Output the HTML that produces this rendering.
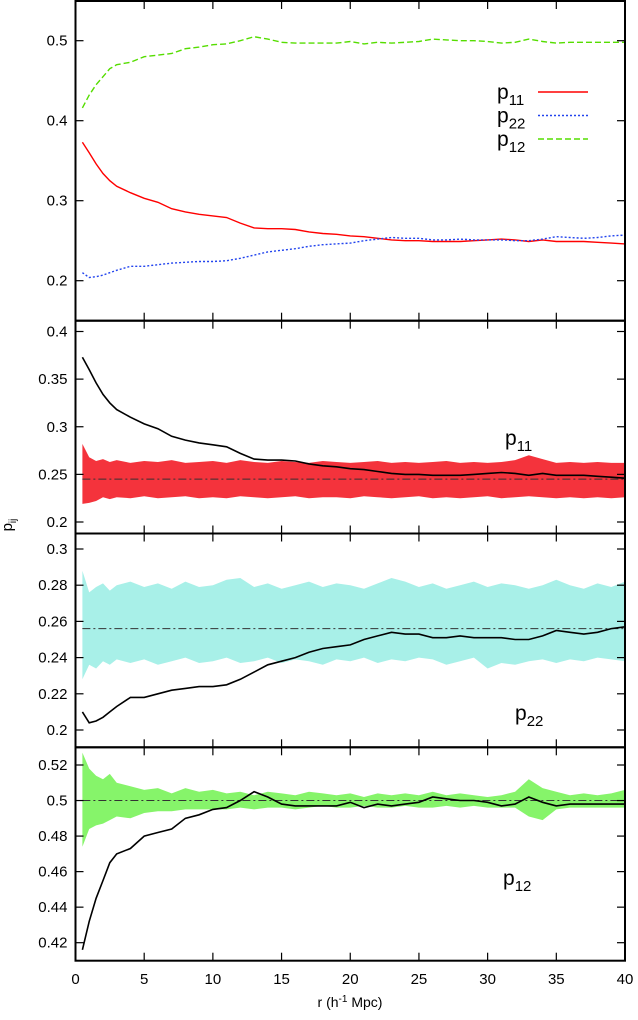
<!DOCTYPE html>
<html><head><meta charset="utf-8"><style>
body{margin:0;background:#fff;}
svg text{font-family:"Liberation Sans",sans-serif;fill:#000;}
</style></head><body>
<svg id="chart" width="638" height="1015" xmlns="http://www.w3.org/2000/svg"></svg>
<script>
const rX=[0.5,1,1.5,2,2.5,3,4,5,6,7,8,9,10,11,12,13,14,15,16,17,18,19,20,21,22,23,24,25,26,27,28,29,30,31,32,33,34,35,36,37,38,39,40];
const p11=[0.373,0.36,0.346,0.334,0.325,0.318,0.31,0.303,0.298,0.29,0.286,0.283,0.281,0.279,0.272,0.266,0.265,0.265,0.264,0.261,0.259,0.258,0.256,0.255,0.253,0.251,0.25,0.25,0.249,0.249,0.249,0.25,0.251,0.252,0.251,0.249,0.251,0.249,0.249,0.249,0.248,0.247,0.246];
const p22=[0.21,0.204,0.205,0.207,0.21,0.213,0.218,0.218,0.22,0.222,0.223,0.224,0.224,0.225,0.228,0.232,0.236,0.238,0.24,0.243,0.245,0.246,0.247,0.25,0.252,0.254,0.253,0.253,0.251,0.251,0.252,0.251,0.251,0.251,0.25,0.25,0.252,0.255,0.254,0.253,0.254,0.256,0.257];
const p12=[0.416,0.432,0.445,0.455,0.465,0.47,0.473,0.48,0.482,0.484,0.49,0.492,0.495,0.496,0.5,0.505,0.502,0.498,0.497,0.497,0.497,0.497,0.499,0.496,0.498,0.497,0.498,0.499,0.502,0.501,0.5,0.5,0.499,0.497,0.498,0.502,0.499,0.497,0.498,0.498,0.498,0.498,0.498];
const b11Hi=[0.282,0.268,0.264,0.266,0.263,0.265,0.262,0.264,0.263,0.265,0.262,0.263,0.264,0.262,0.265,0.263,0.262,0.264,0.263,0.262,0.264,0.263,0.262,0.263,0.264,0.262,0.263,0.262,0.263,0.264,0.262,0.263,0.262,0.263,0.265,0.27,0.266,0.262,0.263,0.262,0.263,0.262,0.262];
const b11Lo=[0.219,0.22,0.222,0.226,0.224,0.226,0.225,0.227,0.225,0.226,0.227,0.225,0.226,0.225,0.227,0.226,0.225,0.226,0.227,0.225,0.226,0.226,0.225,0.227,0.226,0.225,0.226,0.227,0.225,0.226,0.225,0.226,0.227,0.225,0.226,0.227,0.226,0.225,0.226,0.225,0.226,0.225,0.226];
const b22Hi=[0.288,0.276,0.279,0.281,0.277,0.28,0.282,0.279,0.281,0.278,0.282,0.279,0.28,0.283,0.284,0.279,0.281,0.278,0.28,0.282,0.279,0.281,0.28,0.278,0.281,0.284,0.282,0.279,0.281,0.278,0.28,0.282,0.279,0.281,0.28,0.278,0.28,0.283,0.28,0.278,0.281,0.279,0.282];
const b22Lo=[0.228,0.236,0.234,0.238,0.236,0.239,0.237,0.239,0.236,0.238,0.24,0.237,0.238,0.24,0.237,0.238,0.24,0.237,0.239,0.238,0.236,0.239,0.238,0.24,0.237,0.239,0.238,0.24,0.239,0.236,0.238,0.24,0.234,0.237,0.236,0.238,0.239,0.237,0.239,0.238,0.24,0.239,0.238];
const b12Hi=[0.527,0.518,0.514,0.512,0.515,0.51,0.508,0.506,0.507,0.504,0.507,0.505,0.506,0.504,0.505,0.503,0.505,0.504,0.503,0.505,0.504,0.503,0.504,0.502,0.504,0.503,0.504,0.503,0.505,0.503,0.504,0.503,0.502,0.503,0.505,0.512,0.507,0.505,0.503,0.504,0.503,0.504,0.506];
const b12Lo=[0.474,0.484,0.486,0.487,0.489,0.491,0.49,0.493,0.494,0.494,0.495,0.495,0.495,0.495,0.496,0.495,0.496,0.496,0.495,0.496,0.497,0.496,0.496,0.497,0.496,0.496,0.497,0.496,0.496,0.497,0.496,0.497,0.496,0.496,0.496,0.491,0.489,0.495,0.496,0.496,0.496,0.496,0.496];
const xTicks=[0,5,10,15,20,25,30,35,40];
const yT1=[0.2,0.3,0.4,0.5], yT2=[0.2,0.25,0.3,0.35,0.4], yT3=[0.2,0.22,0.24,0.26,0.28,0.3], yT4=[0.42,0.44,0.46,0.48,0.5,0.52];

const svg=document.getElementById('chart');const NS='http://www.w3.org/2000/svg';
function mk(t,a,p){const e=document.createElementNS(NS,t);for(const k in a)e.setAttribute(k,a[k]);(p||svg).appendChild(e);return e;}
const L=75.5,R=625;
const X=v=>L+(R-L)*v/40;
function yScale(v0,y0,v1,y1){return v=>y0+(v-v0)*(y1-y0)/(v1-v0);}
function pathOf(xs,ys,Y){return xs.map((x,i)=>(i?'L':'M')+X(x).toFixed(1)+','+Y(ys[i]).toFixed(1)).join('');}
const panels=[
 {top:1,bot:320.7,Y:yScale(0.2,280.7,0.5,40.7),ticks:yT1,fmt:v=>v.toFixed(1),name:'panel-all'},
 {top:320.7,bot:533.5,Y:yScale(0.2,522,0.4,331.5),ticks:yT2,fmt:v=>String(+v.toFixed(2)),name:'panel-p11'},
 {top:533.5,bot:747.3,Y:yScale(0.2,730,0.3,549),ticks:yT3,fmt:v=>String(+v.toFixed(2)),name:'panel-p22'},
 {top:747.3,bot:960.7,Y:yScale(0.42,942.7,0.52,765),ticks:yT4,fmt:v=>String(+v.toFixed(2)),name:'panel-p12'}];
// bands
const bands=[[1,b11Hi,b11Lo,'#f4333c',0.245,p11,'p','11',505,445],[2,b22Hi,b22Lo,'#a8f0e8',0.256,p22,'p','22',515,720],[3,b12Hi,b12Lo,'#86f46a',0.5,p12,'p','12',503,885]];
bands.forEach(b=>{const P=panels[b[0]];const g=mk('g',{});
 
 const d=pathOf(rX,b[1],P.Y)+rX.slice().reverse().map((x,i)=>'L'+X(x).toFixed(1)+','+P.Y(b[2][b[2].length-1-i]).toFixed(1)).join('')+'Z';
 const band=mk('path',{d:d,fill:b[3]},g);
 const ml=mk('line',{x1:X(0.5),x2:R,y1:P.Y(b[4]),y2:P.Y(b[4]),stroke:'#333','stroke-width':1,'stroke-dasharray':'8,3,2,3'},g);
 
 const ln=mk('path',{d:pathOf(rX,b[5],P.Y),fill:'none',stroke:'#000','stroke-width':1.6},g);
 
 const t=mk('text',{x:b[8],y:b[9],'font-size':21},g);t.textContent=b[6];
 const s=mk('tspan',{dy:6,'font-size':15},t);s.textContent=b[7];
 
});
// top panel lines
const P0=panels[0];
[[p11,'#ff0000',''],[p22,'#2244ee','2,2'],[p12,'#55dd00','6,3']].forEach((s,i)=>{
 const e=mk('path',{d:pathOf(rX,s[0],P0.Y),fill:'none',stroke:s[1],'stroke-width':1.4,'stroke-dasharray':s[2]});
 });
// legend
const lg=mk('g',{});
[['11','#ff0000',''],['22','#2244ee','2,2'],['12','#55dd00','6,3']].forEach((s,i)=>{
 const y=92+i*23.5;const en=mk('g',{},lg);
 const t=mk('text',{x:497,y:y+7,'font-size':21},en);t.textContent='p';const sp=mk('tspan',{dy:6,'font-size':15},t);sp.textContent=s[0];
 mk('line',{x1:538,x2:588,y1:y,y2:y,stroke:s[1],'stroke-width':1.4,'stroke-dasharray':s[2]},en);});
// frames and ticks
panels.forEach(P=>{
 const f=mk('rect',{x:L,y:P.top,width:R-L,height:P.bot-P.top,fill:'none',stroke:'#000','stroke-width':2});
 
 P.ticks.forEach(v=>{const y=P.Y(v);mk('line',{x1:L,x2:L+8,y1:y,y2:y,stroke:'#000','stroke-width':1.2});mk('line',{x1:R,x2:R-8,y1:y,y2:y,stroke:'#000','stroke-width':1.2});
  const t=mk('text',{x:L-8,y:y+5,'font-size':15,'text-anchor':'end'});t.textContent=P.fmt(v);
  });
 xTicks.forEach(v=>{const x=X(v);mk('line',{x1:x,x2:x,y1:P.bot,y2:P.bot-8,stroke:'#000','stroke-width':1.2});mk('line',{x1:x,x2:x,y1:P.top,y2:P.top+8,stroke:'#000','stroke-width':1.2});});
});
xTicks.forEach(v=>{const t=mk('text',{x:X(v),y:984,'font-size':15,'text-anchor':'middle'});t.textContent=v;
 });
const xt=mk('text',{x:350,y:1007,'font-size':14,'text-anchor':'middle'});xt.innerHTML='r (h<tspan dy="-5" font-size="10">-1</tspan><tspan dy="5"> Mpc)</tspan>';

const yt=mk('text',{x:0,y:0,'font-size':15,'text-anchor':'middle',transform:'translate(12,525) rotate(-90)'});yt.innerHTML='p<tspan dy="4" font-size="10">ij</tspan>';

</script>
</body></html>
